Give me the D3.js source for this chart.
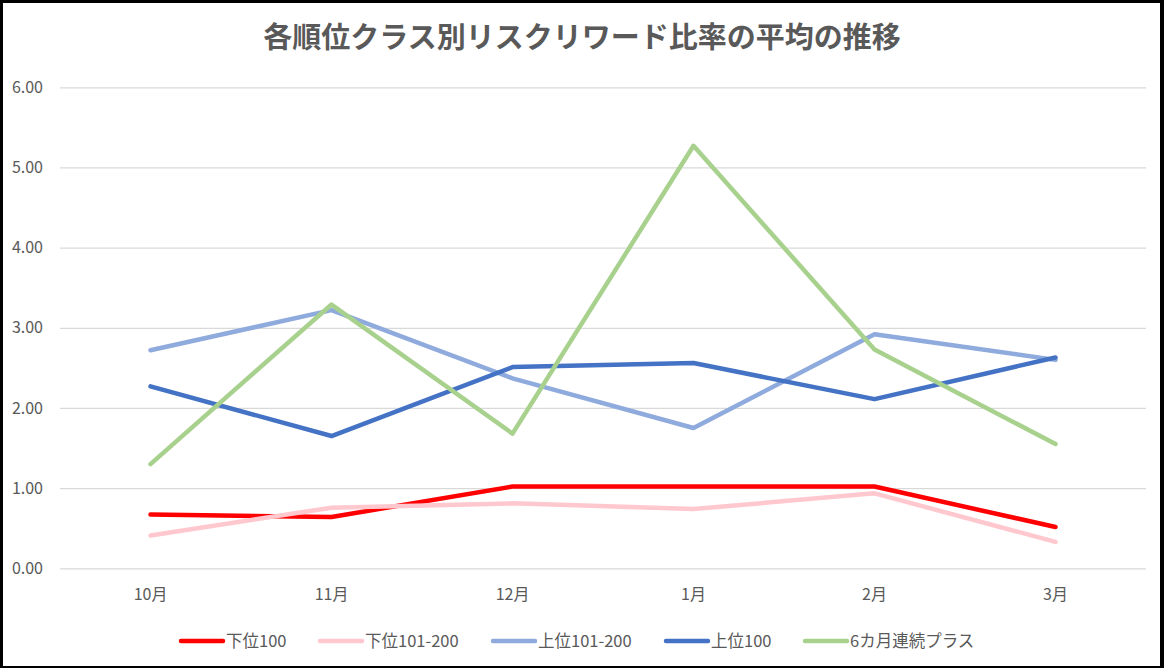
<!DOCTYPE html>
<html>
<head>
<meta charset="utf-8">
<script src="https://cdn.jsdelivr.net/npm/d3@7"></script>
<style>
html,body{margin:0;padding:0;background:#fff;}
svg{display:block;}
</style>
</head>
<body>
<svg id="chart" width="1164" height="668"></svg>
<script>
const title = "各順位クラス別リスクリワード比率の平均の推移";
const categories = ["10月","11月","12月","1月","2月","3月"];
const yTicks = [0,1,2,3,4,5,6];
const seriesNames = ["下位100","下位101-200","上位101-200","上位100","6カ月連続プラス"];
const seriesColors = ["#FF0000","#FFC7CE","#8FAADC","#4472C4","#A9D18E"];
const v_lower100 = [0.67,0.64,1.02,1.02,1.02,0.515];
const v_lower101_200 = [0.41,0.756,0.81,0.74,0.935,0.33];
const v_upper101_200 = [2.72,3.22,2.37,1.75,2.92,2.60];
const v_upper100 = [2.27,1.65,2.51,2.56,2.11,2.63];
const v_plus6 = [1.30,3.29,1.68,5.27,2.73,1.55];
const seriesValues = [v_lower100,v_lower101_200,v_upper101_200,v_upper100,v_plus6];

const svg = d3.select("#chart");
const W = 1164, H = 668;
svg.append("rect").attr("x",0).attr("y",0).attr("width",W).attr("height",H).attr("fill","#000");
svg.append("rect").attr("x",3).attr("y",3).attr("width",W-7).attr("height",H-5).attr("fill","#fff");

const font = "'Noto Sans CJK JP','Noto Sans',sans-serif";
const textColor = "#595959";

svg.append("text").attr("x",582).attr("y",48).attr("text-anchor","middle")
  .attr("font-family",font).attr("font-weight","bold").attr("font-size",29)
  .attr("fill",textColor).text(title);

const x = d3.scaleBand().domain(categories).range([60,1146]);
const y = d3.scaleLinear().domain([0,6]).range([568.3,87.3]);

const yAxis = d3.axisLeft(y).tickValues(yTicks).tickFormat(d3.format(".2f")).tickSize(-(1146-60)).tickPadding(17);
const gy = svg.append("g").attr("transform","translate(60,0)").call(yAxis);
gy.select(".domain").remove();
gy.selectAll(".tick line").attr("stroke","#d9d9d9").attr("stroke-width",1.2);
gy.selectAll(".tick text").attr("font-family",font).attr("font-size",16).attr("fill",textColor);

const xAxis = d3.axisBottom(x).tickSize(0).tickPadding(20);
const gx = svg.append("g").attr("transform","translate(0,568.3)").call(xAxis);
gx.select(".domain").remove();
gx.selectAll(".tick text").attr("font-family",font).attr("font-size",16).attr("fill",textColor);

const line = d3.line().x((d,i)=>x(categories[i])+x.bandwidth()/2).y(d=>y(d));
seriesValues.forEach((vals,k)=>{
  svg.append("path").datum(vals).attr("d",line).attr("fill","none")
    .attr("stroke",seriesColors[k]).attr("stroke-width",4.5)
    .attr("stroke-linecap","round").attr("stroke-linejoin","round");
});

const legendX = [181,320,493,666,805];
const lg = svg.append("g");
seriesNames.forEach((n,k)=>{
  lg.append("line").attr("x1",legendX[k]).attr("x2",legendX[k]+42)
    .attr("y1",641).attr("y2",641).attr("stroke",seriesColors[k])
    .attr("stroke-width",4.5).attr("stroke-linecap","round");
  lg.append("text").attr("x",legendX[k]+45).attr("y",647)
    .attr("font-family",font).attr("font-size",16.5).attr("fill",textColor).text(n);
});
</script>
</body>
</html>
